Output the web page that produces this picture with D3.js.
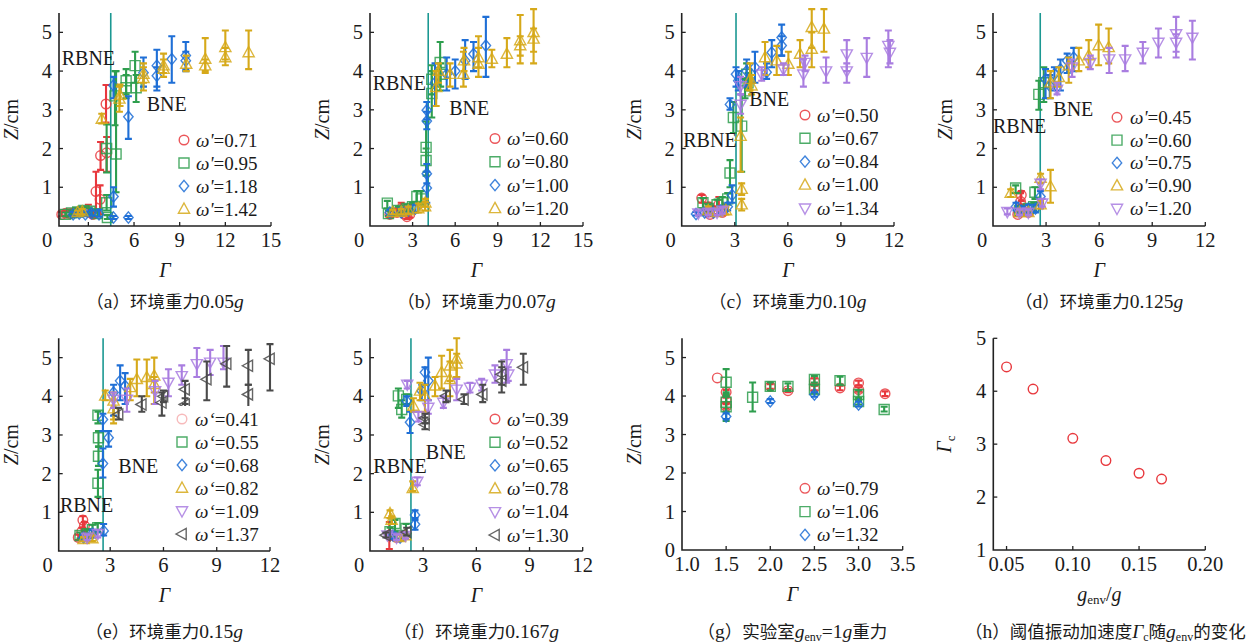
<!DOCTYPE html>
<html><head><meta charset="utf-8">
<script src="https://cdn.jsdelivr.net/npm/d3@7"></script>
<style>
body{margin:0;background:#fff}
svg{display:block}
svg text{font-family:"Liberation Serif","DejaVu Serif",serif;fill:#1a1a1a}
</style></head><body>
<svg id="fig" width="1247" height="643" font-family="Liberation Serif, DejaVu Serif, serif"></svg>
<script>
// ---- data: each point is [Γ, Z, error-bar low, error-bar high] ----
const a071 = [[1.25,0.30,0.25,0.36],[1.5,0.33,0.27,0.4],[1.8,0.32,0.26,0.38],[2.1,0.35,0.28,0.42],[2.4,0.37,0.3,0.45],[2.7,0.38,0.3,0.47],[3.0,0.36,0.28,0.55],[3.3,0.3,0.22,0.4],[3.5,0.89,0.35,1.4],[3.77,0.69,0.3,1.05],[3.8,1.82,1.45,2.17],[4.2,1.89,1.4,2.3],[4.16,3.15,2.67,3.64]];
const a095 = [[1.5,0.3,0.25,0.35],[1.9,0.34,0.28,0.4],[2.3,0.36,0.3,0.44],[2.7,0.4,0.32,0.48],[3.1,0.38,0.3,0.46],[3.6,0.32,0.25,0.42],[4.2,0.6,0.4,0.8],[4.25,0.22,0.18,0.28],[4.2,2.0,1.38,2.62],[4.82,1.86,0.87,4.0],[4.75,3.36,2.6,4.0],[5.48,3.75,3.4,4.05],[5.48,3.57,3.3,3.9],[6.07,4.14,3.7,4.5],[6.14,3.57,3.2,3.9]];
const a118 = [[2.0,0.3,0.25,0.36],[2.4,0.32,0.26,0.38],[2.8,0.3,0.25,0.36],[3.2,0.33,0.27,0.4],[3.7,0.3,0.24,0.42],[4.65,3.63,3.3,3.85],[4.65,0.76,0.5,1.0],[4.65,0.22,0.18,0.26],[5.63,0.22,0.18,0.26],[5.63,2.82,2.25,3.35],[6.62,3.96,3.6,4.35],[7.5,4.14,3.5,4.55],[7.5,3.88,3.6,4.1],[8.48,4.31,3.7,4.9],[9.4,4.4,4.0,4.75],[9.4,4.27,4.05,4.5]];
const a142 = [[2.3,0.35,0.3,0.4],[2.6,0.37,0.3,0.44],[3.88,2.76,2.65,2.9],[5.04,3.28,2.95,3.6],[5.08,3.38,3.1,3.65],[6.62,3.81,3.5,4.2],[6.62,3.92,3.7,4.1],[7.94,4.05,3.85,4.45],[7.94,4.14,3.95,4.3],[9.43,4.18,4.0,4.4],[10.68,4.31,4.0,4.85],[10.68,4.14,3.95,4.3],[12.0,4.61,4.3,5.05],[12.0,4.35,4.15,4.6],[13.53,4.48,4.05,5.05]];

const b060 = [[1.4,0.3,0.22,0.38],[1.9,0.35,0.28,0.45],[2.2,0.45,0.3,0.6],[2.4,0.32,0.25,0.4],[2.6,0.24,0.18,0.5],[2.8,0.3,0.22,0.55]];
const b080 = [[1.22,0.59,0.45,0.65],[1.3,0.32,0.26,0.4],[2.0,0.4,0.32,0.5],[2.6,0.45,0.35,0.55],[3.0,0.5,0.4,0.6],[3.3,0.76,0.6,0.9],[3.6,0.7,0.55,0.9],[3.95,2.03,1.3,2.7],[3.95,1.69,1.4,2.0],[4.35,3.79,3.4,4.15],[4.35,3.42,2.8,4.0],[4.94,4.22,3.5,4.75],[4.98,3.92,3.6,4.2]];
const b100 = [[1.4,0.35,0.28,0.42],[2.2,0.35,0.28,0.45],[2.7,0.4,0.32,0.5],[3.2,0.45,0.35,0.55],[4.0,0.98,0.6,1.4],[4.0,1.35,1.1,1.6],[4.0,2.71,2.5,2.95],[4.0,2.99,2.75,3.2],[4.58,3.7,3.1,4.2],[5.4,3.92,3.5,4.35],[6.0,4.0,3.55,4.3],[6.7,4.27,3.8,4.8],[7.29,4.44,4.0,4.75],[8.16,4.66,3.85,5.4]];
const b120 = [[1.6,0.35,0.3,0.42],[2.2,0.36,0.3,0.44],[2.7,0.4,0.32,0.5],[3.4,0.45,0.35,0.58],[3.88,0.5,0.4,0.62],[3.9,0.6,0.5,0.7],[4.66,3.58,3.1,4.0],[4.82,4.0,3.7,4.2],[5.64,3.92,3.6,4.2],[6.58,3.92,3.6,4.5],[6.62,4.27,4.0,4.6],[7.64,4.18,3.85,4.9],[7.64,4.35,4.1,4.6],[8.58,4.31,4.1,4.55],[9.64,4.44,4.1,4.85],[10.58,4.79,4.2,5.45],[10.58,4.66,4.4,4.9],[11.52,5.0,4.2,5.6],[11.52,4.83,4.5,5.1]];

const c050 = [[1.13,0.72,0.6,0.8],[1.5,0.5,0.4,0.6],[1.8,0.4,0.3,0.5],[2.1,0.55,0.4,0.75],[2.3,0.35,0.28,0.45],[1.6,0.3,0.25,0.36]];
const c067 = [[1.2,0.6,0.45,0.72],[1.5,0.45,0.35,0.55],[2.0,0.55,0.45,0.68],[2.3,0.6,0.5,0.75],[2.6,0.7,0.55,0.85],[2.73,1.37,1.0,1.7],[2.92,2.8,2.4,3.2],[3.39,2.58,1.4,3.4],[3.58,3.49,3.3,3.8],[3.67,3.92,3.6,4.2],[3.75,3.7,3.5,3.95]];
const c084 = [[0.81,0.31,0.27,0.36],[1.3,0.35,0.28,0.42],[1.8,0.35,0.28,0.42],[2.2,0.4,0.32,0.5],[2.6,0.5,0.4,0.6],[2.85,0.8,0.6,1.05],[2.73,3.14,3.0,3.3],[3.07,3.92,3.6,4.1],[3.2,3.75,3.5,4.0],[3.67,4.0,3.6,4.3],[4.14,4.1,3.7,4.5],[4.8,3.97,3.8,4.2],[5.09,4.48,4.1,4.8],[5.65,4.87,4.4,5.2],[5.65,4.66,4.4,4.9]];
const c100 = [[1.5,0.4,0.32,0.5],[2.0,0.35,0.28,0.45],[2.5,0.4,0.3,0.5],[3.39,0.55,0.4,0.7],[3.39,0.95,0.8,1.1],[3.33,2.32,1.4,2.8],[3.86,3.79,3.5,4.2],[3.95,3.62,3.4,3.9],[4.71,4.35,3.9,4.75],[5.37,4.27,3.9,4.65],[6.03,4.18,3.9,4.5],[6.69,4.44,4.1,4.8],[7.35,5.13,4.6,5.6],[7.35,4.57,4.1,5.0],[8.04,5.09,4.5,5.6]];
const c134 = [[0.94,0.33,0.27,0.4],[1.5,0.35,0.28,0.42],[2.0,0.35,0.28,0.42],[2.3,0.4,0.32,0.48],[3.33,3.14,2.9,3.4],[3.33,3.62,3.4,3.85],[4.52,3.92,3.75,4.1],[5.75,4.05,3.9,4.2],[6.88,3.92,3.6,4.3],[6.97,4.22,4.0,4.4],[8.16,4.0,3.7,4.35],[9.33,4.44,4.0,4.8],[9.33,4.0,3.7,4.2],[10.46,4.35,3.85,4.85],[11.68,4.66,4.1,5.05],[11.77,4.48,4.2,4.8]];

const d045 = [[1.4,0.3,0.25,0.36],[1.6,0.45,0.35,0.55],[1.56,0.63,0.4,0.85],[1.6,0.8,0.65,0.9],[2.0,0.35,0.28,0.42]];
const d060 = [[1.28,0.98,0.85,1.05],[1.5,0.4,0.32,0.5],[2.0,0.45,0.35,0.55],[2.3,0.5,0.4,0.6],[2.37,0.87,0.7,1.0],[2.59,3.4,3.0,3.75],[2.87,3.7,3.2,4.1]];
const d075 = [[1.3,0.5,0.4,0.6],[1.6,0.4,0.32,0.5],[2.0,0.45,0.35,0.55],[2.4,0.45,0.35,0.55],[2.68,0.76,0.6,0.9],[2.97,3.79,3.3,4.05],[3.21,3.62,3.3,3.9],[3.47,3.92,3.5,4.1],[3.81,4.05,3.5,4.3],[4.19,4.27,3.95,4.45],[4.56,4.35,4.0,4.6]];
const d090 = [[1.0,0.85,0.75,0.95],[1.5,0.35,0.28,0.42],[2.0,0.35,0.28,0.42],[2.69,1.24,1.1,1.35],[2.69,0.55,0.45,0.65],[3.25,1.02,0.6,1.45],[3.25,3.7,3.3,4.0],[3.72,3.84,3.6,4.1],[4.28,4.14,3.7,4.35],[4.85,4.27,4.0,4.6],[5.41,4.4,4.1,4.8],[5.97,4.66,4.15,5.2],[6.54,4.61,4.2,5.1]];
const d120 = [[0.81,0.37,0.3,0.45],[1.5,0.35,0.28,0.42],[2.0,0.35,0.28,0.42],[2.69,1.1,0.95,1.2],[2.78,0.59,0.5,0.7],[3.62,3.53,3.4,3.7],[4.47,4.1,3.85,4.3],[5.5,4.22,4.05,4.4],[6.57,4.31,3.95,4.6],[7.47,4.31,4.0,4.65],[8.47,4.48,4.2,4.75],[9.35,4.74,4.35,5.1],[10.35,4.96,4.35,5.4],[10.35,4.74,4.5,4.95],[11.27,4.87,4.3,5.3]];

const e041 = [[1.2,0.35,0.28,0.42],[1.4,0.5,0.4,0.6],[1.46,0.8,0.6,0.9],[1.7,0.45,0.35,0.55],[1.55,0.65,0.5,0.75]];
const e055 = [[1.3,0.4,0.32,0.48],[1.7,0.45,0.35,0.55],[2.0,0.55,0.45,0.68],[2.3,0.6,0.5,0.72],[2.31,1.75,1.4,2.1],[2.34,2.45,2.2,2.7],[2.34,2.93,2.7,3.1],[2.31,3.51,3.3,3.6]];
const e068 = [[1.5,0.35,0.28,0.42],[2.0,0.45,0.35,0.55],[2.63,0.52,0.4,0.7],[2.59,2.26,1.9,2.65],[2.91,2.93,2.7,3.1],[2.59,3.4,3.1,3.55],[3.19,4.1,3.5,4.3],[3.56,4.4,3.9,4.8],[3.84,4.27,3.8,4.6]];
const e082 = [[1.5,0.3,0.25,0.36],[2.0,0.32,0.26,0.4],[2.72,4.01,3.9,4.15],[3.19,3.88,3.3,4.1],[3.19,3.68,3.4,3.9],[4.13,4.23,3.9,4.45],[4.5,4.44,4.0,4.95],[5.06,4.49,4.0,4.95],[5.48,4.53,3.8,5.0],[5.48,4.31,4.1,4.5]];
const e109 = [[1.7,0.35,0.28,0.42],[2.3,0.45,0.35,0.55],[3.19,3.92,3.7,4.1],[3.94,3.92,3.6,4.2],[5.53,4.14,3.8,4.4],[6.28,4.36,4.0,4.7],[7.03,4.53,4.3,4.8],[7.88,4.84,4.5,5.25],[8.63,4.88,4.55,5.2],[9.38,4.88,4.7,5.3]];
const e137 = [[3.47,3.53,3.4,3.7],[4.78,3.79,3.6,4.0],[5.91,3.84,3.5,4.1],[6.0,4.0,3.85,4.15],[7.22,4.18,3.8,4.4],[7.22,3.79,3.6,3.95],[8.44,4.44,3.9,4.9],[9.56,4.84,4.25,5.3],[10.78,4.79,4.3,5.2],[10.78,4.05,3.7,4.3],[12.0,4.97,4.15,5.35]];

const f039 = [[1.09,0.41,0.05,0.75],[1.3,0.4,0.32,0.48],[1.5,0.35,0.28,0.42]];
const f052 = [[1.6,4.01,3.7,4.2],[1.79,3.66,3.45,3.9],[2.07,3.92,3.8,4.05],[1.41,0.71,0.5,0.8],[1.13,0.5,0.42,0.6],[2.03,0.58,0.45,0.7],[1.7,0.4,0.32,0.48]];
const f065 = [[1.3,0.4,0.32,0.48],[1.7,0.35,0.28,0.42],[2.54,0.69,0.55,0.85],[2.54,0.93,0.8,1.05],[2.26,3.33,3.05,3.6],[2.07,3.88,3.75,4.0],[3.1,4.62,4.3,4.75],[3.29,4.4,3.9,5.0],[2.92,4.14,3.9,4.3]];
const f078 = [[1.13,0.97,0.85,1.05],[1.22,0.8,0.7,0.9],[1.7,0.35,0.28,0.42],[2.0,0.4,0.32,0.48],[2.41,1.62,1.55,1.8],[2.45,3.75,3.6,3.95],[2.82,4.14,3.9,4.35],[3.1,4.01,3.6,4.3],[3.67,4.27,4.0,4.5],[4.04,4.62,4.2,5.05],[4.51,4.79,4.4,5.2],[4.51,4.44,4.0,4.9],[4.89,4.97,4.5,5.5],[4.89,4.84,4.5,5.1]];
const f104 = [[0.98,0.41,0.35,0.48],[1.5,0.35,0.28,0.42],[2.0,0.4,0.32,0.48],[2.1,4.31,4.2,4.4],[2.67,1.8,1.7,1.9],[2.73,3.49,3.35,3.6],[3.29,3.71,3.55,3.9],[4.14,3.84,3.7,4.0],[4.89,4.18,3.9,4.45],[5.64,4.23,4.1,4.35],[6.3,4.31,4.15,4.45],[7.05,4.57,4.35,4.8],[7.71,4.84,4.35,5.2],[7.8,4.57,4.4,4.75]];
const f130 = [[0.9,0.41,0.35,0.48],[2.07,0.49,0.4,0.6],[3.1,3.27,3.15,3.45],[3.1,3.44,3.3,3.55],[4.29,4.01,3.85,4.15],[5.3,3.92,3.8,4.05],[6.36,4.05,3.85,4.3],[7.43,4.4,4.1,4.9],[7.43,4.57,4.3,4.75],[8.65,4.75,4.3,5.1]];

const g079 = [[1.4,4.47,4.47,4.47],[1.5,4.1,4.04,4.16],[1.5,3.9,3.84,3.96],[1.5,3.73,3.67,3.79],[2.0,4.25,4.19,4.31],[2.2,4.14,4.1,4.18],[2.5,4.38,4.3,4.46],[2.5,4.21,4.15,4.27],[2.79,4.21,4.15,4.27],[3.0,4.34,4.28,4.4],[3.0,4.17,4.11,4.23],[3.3,4.06,4.0,4.12]];
const g106 = [[1.5,4.36,4.0,4.7],[1.5,3.72,3.35,4.1],[1.5,3.84,3.6,4.05],[1.8,3.97,3.6,4.35],[2.0,4.25,4.15,4.35],[2.2,4.25,4.15,4.33],[2.5,4.43,4.35,4.52],[2.5,4.17,4.08,4.28],[2.79,4.4,4.3,4.5],[3.0,4.04,3.9,4.15],[3.0,3.86,3.78,3.95],[3.29,3.65,3.6,3.72]];
const g132 = [[1.5,3.47,3.4,3.55],[2.0,3.86,3.82,3.92],[2.5,4.04,3.98,4.1],[3.0,3.78,3.73,3.85]];

// threshold acceleration Γc versus g_env / g
const gEnvRatio = [0.05, 0.07, 0.10, 0.125, 0.15, 0.167];
const gammaCrit = [4.46, 4.04, 3.11, 2.69, 2.45, 2.34];
// Γ position of the RBNE/BNE boundary line in panels a–f
const boundaryGamma = [4.47, 4.1, 3.07, 2.67, 2.6, 2.31];

// tick labels
const ticks15 = [0, 3, 6, 9, 12, 15];
const ticks12 = [0, 3, 6, 9, 12];
const ticksZ = [1, 2, 3, 4, 5];
const ticksZ0 = [0, 1, 2, 3, 4, 5];
const ticksLab = [1.0, 1.5, 2.0, 2.5, 3.0, 3.5];
const ticksEnv = [0.05, 0.10, 0.15, 0.20];
const ticksGc = [1, 2, 3, 4, 5];

// ω' values in each legend
const omegaA = ["0.71", "0.95", "1.18", "1.42"];
const omegaB = ["0.60", "0.80", "1.00", "1.20"];
const omegaC = ["0.50", "0.67", "0.84", "1.00", "1.34"];
const omegaD = ["0.45", "0.60", "0.75", "0.90", "1.20"];
const omegaE = ["0.41", "0.55", "0.68", "0.82", "1.09", "1.37"];
const omegaF = ["0.39", "0.52", "0.65", "0.78", "1.04", "1.30"];
const omegaG = ["0.79", "1.06", "1.32"];

// ---- styling ----
const SERIF = "'Liberation Serif', 'DejaVu Serif', serif";
const CJK = "'Noto Sans CJK SC', sans-serif";
const C = {red:"#e8383d", green:"#2e9e4e", blue:"#1f6fd6", gold:"#d6a91a", purple:"#a97de0", gray:"#4a4a4a"};
const styles = [
  {c:C.red, s:"circle"}, {c:C.green, s:"square"}, {c:C.blue, s:"diamond"},
  {c:C.gold, s:"up"}, {c:C.purple, s:"down"}, {c:C.gray, s:"left"}
];
const TEAL = "#1b9892";

function symbolPath(s) {
  switch (s) {
    case "circle": return d3.symbol(d3.symbolCircle, Math.PI * 4.8 * 4.8)();
    case "square": return "M-5,-5H5V5H-5Z";
    case "diamond": return "M0,-5.6L4.7,0L0,5.6L-4.7,0Z";
    case "up": return "M0,-6L5.6,4.2L-5.6,4.2Z";
    case "down": return "M0,6L5.6,-4.2L-5.6,-4.2Z";
    case "left": return "M-6,0L4.2,-5.6L4.2,5.6Z";
  }
}

const svg = d3.select("#fig");

function txt(sel) {
  return sel.append("text").attr("font-family", SERIF).attr("fill", "#1a1a1a");
}

function drawPanel(p) {
  const x = d3.scaleLinear().domain(p.xd).range(p.xr);
  const y = d3.scaleLinear().domain(p.yd).range(p.yr);
  const g = svg.append("g");

  // boundary line between the RBNE and BNE regimes
  if (p.line !== undefined) {
    g.append("line").attr("x1", x(p.line)).attr("x2", x(p.line))
      .attr("y1", p.yr[0]).attr("y2", p.yr[1])
      .attr("stroke", TEAL).attr("stroke-width", 1.6);
  }

  // series: error bars then open markers
  (p.series || []).forEach((pts, i) => {
    const st = styles[i];
    const sg = g.append("g");
    pts.forEach(d => {
      const [gx, z, lo, hi] = d;
      if (lo !== hi) {
        const px = x(gx);
        sg.append("path")
          .attr("d", `M${px},${y(lo)}V${y(hi)}M${px-3.5},${y(lo)}H${px+3.5}M${px-3.5},${y(hi)}H${px+3.5}`)
          .attr("stroke", st.c).attr("stroke-width", 2.1).attr("fill", "none");
      }
    });
    sg.selectAll("path.m").data(pts).join("path").attr("class", "m")
      .attr("d", symbolPath(st.s))
      .attr("transform", d => `translate(${x(d[0])},${y(d[1])})`)
      .attr("fill", "none").attr("stroke", st.c).attr("stroke-width", 1.4)
      .attr("stroke-opacity", 0.85);
  });

  // Γc scatter (panel h)
  if (p.scatter) {
    g.selectAll("circle.gc").data(p.scatter[0]).join("circle").attr("class", "gc")
      .attr("cx", d => x(d)).attr("cy", (d, i) => y(p.scatter[1][i]))
      .attr("r", 4.8).attr("fill", "none").attr("stroke", C.red).attr("stroke-width", 1.4);
  }

  // legend
  if (p.legend) {
    const L = p.legend;
    if (L.box) {
      g.append("rect").attr("x", L.box[0]).attr("y", L.box[1]).attr("width", L.box[2]).attr("height", L.box[3])
        .attr("fill", "#fff");
    }
    L.labels.forEach((lab, i) => {
      const ly = L.y0 + i * L.dy;
      const st = styles[i];
      g.append("path").attr("d", symbolPath(st.s)).attr("transform", `translate(${L.mx},${ly})`)
        .attr("fill", "none").attr("stroke", st.c).attr("stroke-width", 1.4)
        .attr("stroke-opacity", (L.faded && i === 0) ? 0.35 : 0.85);
      const t = txt(g).attr("x", L.tx).attr("y", ly + 6.5).attr("font-size", 19);
      t.append("tspan").attr("font-style", "italic").text("ω" + (L.prime || "'"));
      t.append("tspan").text("=" + lab);
    });
  }

  // axes with inward ticks
  g.append("path").attr("d", `M${p.xr[0]},${p.yr[1]}V${p.yr[0]}H${p.xr[1]}`)
    .attr("fill", "none").attr("stroke", "#222").attr("stroke-width", 1.6);
  p.yt.forEach(v => {
    const py = y(v);
    if (v !== p.yd[0]) g.append("line").attr("x1", p.xr[0]).attr("x2", p.xr[0] + 4)
      .attr("y1", py).attr("y2", py).attr("stroke", "#222").attr("stroke-width", 1.3);
    txt(g).attr("x", p.xr[0] - 7).attr("y", py + 7).attr("text-anchor", "end")
      .attr("font-size", 20.5).text(v);
  });
  p.xt.forEach((v, i) => {
    let px = x(v);
    if (v > p.xd[0]) g.append("line").attr("x1", px).attr("x2", px)
      .attr("y1", p.yr[0]).attr("y2", p.yr[0] - 4).attr("stroke", "#222").attr("stroke-width", 1.3);
    if (i === 0 && p.firstShift !== undefined) px = p.xr[0] + p.firstShift;
    txt(g).attr("x", px).attr("y", p.yr[0] + 21).attr("text-anchor", "middle")
      .attr("font-size", 20.5).text(p.xfmt ? p.xfmt(v) : v);
  });

  // regime annotations
  (p.notes || []).forEach(n => {
    txt(g).attr("x", x(n[1])).attr("y", y(n[2])).attr("font-size", 20).text(n[0]);
  });

  // axis titles
  const cx = (p.xr[0] + p.xr[1]) / 2;
  const cy = (p.yr[0] + p.yr[1]) / 2;
  const yOff = p.yTitle === "Gc" ? 42 : 41;
  const yt = txt(g).attr("transform", `translate(${p.xr[0] - yOff},${cy}) rotate(-90)`)
    .attr("text-anchor", "middle").attr("font-size", 20);
  if (p.yTitle === "Gc") {
    yt.append("tspan").attr("font-style", "italic").text("Γ");
    yt.append("tspan").attr("font-size", 13).attr("dy", 4).text("c");
  } else {
    yt.append("tspan").attr("font-style", "italic").text("Z");
    yt.append("tspan").text("/cm");
  }
  const xt = txt(g).attr("x", cx).attr("y", p.yr[0] + 51).attr("text-anchor", "middle").attr("font-size", 20);
  if (p.xTitle === "genv") {
    xt.append("tspan").attr("font-style", "italic").text("g");
    xt.append("tspan").attr("font-size", 13).attr("dy", 3).text("env");
    xt.append("tspan").attr("dy", -3).text("/");
    xt.append("tspan").attr("font-style", "italic").text("g");
  } else {
    xt.append("tspan").attr("font-style", "italic").text("Γ");
  }

  // caption
  const cap = txt(g).attr("x", cx + (p.capShift || 0)).attr("y", p.capY)
    .attr("text-anchor", "middle").attr("font-size", 18);
  p.caption.forEach(part => {
    const ts = cap.append("tspan").text(part.t);
    if (part.cjk) ts.attr("font-family", CJK).attr("font-size", 17.5);
    if (part.i) ts.attr("font-style", "italic");
    if (part.sub) ts.attr("font-size", 12).attr("dy", 3);
    if (part.up) ts.attr("dy", -3);
    if (part.big) ts.attr("font-size", 19.5);
  });
}

const topY = [226, 13], botY = [551, 338.3];
const envCaption = (letter, val) => [
  {t:"（", cjk:true}, {t:letter, big:true}, {t:"）环境重力", cjk:true}, {t:val, big:true}, {t:"g", i:true, big:true}
];

const panels = [
  {xr:[59,271], yr:topY, xd:[1.07,15], yd:[0,5.5], xt:ticks15, yt:ticksZ, firstShift:-12,
   series:[a071,a095,a118,a142], line:boundaryGamma[0],
   legend:{labels:omegaA, mx:184, tx:196, y0:140, dy:23},
   notes:[["RBNE",1.25,4.15],["BNE",6.83,2.98]], capY:308, caption:envCaption("a","0.05")},
  {xr:[370,583], yr:topY, xd:[0,15], yd:[0,5.5], xt:ticks15, yt:ticksZ, firstShift:-11,
   series:[b060,b080,b100,b120], line:boundaryGamma[1],
   legend:{labels:omegaB, mx:495, tx:507, y0:138.5, dy:23.3},
   notes:[["RBNE",0.19,3.52],["BNE",5.58,2.86]], capY:308, caption:envCaption("b","0.07")},
  {xr:[681.7,894], yr:topY, xd:[0,12], yd:[0,5.5], xt:ticks12, yt:ticksZ, firstShift:-11,
   series:[c050,c067,c084,c100,c134], line:boundaryGamma[2],
   legend:{labels:omegaC, mx:805, tx:817, y0:115, dy:23.3},
   notes:[["RBNE",0.09,2.04],["BNE",3.82,3.09]], capY:308, caption:envCaption("c","0.10")},
  {xr:[993,1205.3], yr:topY, xd:[0,12], yd:[0,5.5], xt:ticks12, yt:ticksZ, firstShift:-11,
   series:[d045,d060,d075,d090,d120], line:boundaryGamma[3],
   legend:{labels:omegaD, mx:1117, tx:1130, y0:117.3, dy:22.8},
   notes:[["RBNE",0.0,2.4],["BNE",3.41,2.83]], capY:308, caption:envCaption("d","0.125")},
  {xr:[58.7,270], yr:botY, xd:[0.1,12], yd:[0,5.5], xt:ticks12, yt:ticksZ, firstShift:-11,
   series:[e041,e055,e068,e082,e109,e137], line:boundaryGamma[4],
   legend:{labels:omegaE, mx:182, tx:195, y0:419, dy:23, prime:"‘", faded:true, box:[170,406,99,143]},
   notes:[["RBNE",0.17,1.02],["BNE",3.45,2.01]], capY:638, caption:envCaption("e","0.15")},
  {xr:[370,582.7], yr:botY, xd:[0,12], yd:[0,5.5], xt:ticks12, yt:ticksZ, firstShift:-11,
   series:[f039,f052,f065,f078,f104,f130], line:boundaryGamma[5],
   legend:{labels:omegaF, mx:495, tx:507, y0:419, dy:23.2},
   notes:[["RBNE",0.19,2.01],["BNE",3.15,2.38]], capY:638, caption:envCaption("f","0.167")},
  {xr:[682,902.7], yr:[550,338.3], xd:[1,3.5], yd:[0,5.5], xt:ticksLab, yt:ticksZ0, firstShift:5,
   xfmt:d3.format(".1f"),
   series:[g079,g106,g132],
   legend:{labels:omegaG, mx:805, tx:817, y0:488.3, dy:23.3},
   capY:638, caption:[{t:"（", cjk:true}, {t:"g", big:true}, {t:"）实验室", cjk:true}, {t:"g", i:true, big:true},
     {t:"env", sub:true}, {t:"=1", up:true, big:true}, {t:"g", i:true, big:true}, {t:"重力", cjk:true}]},
  {xr:[993.3,1205.3], yr:[550,338.3], xd:[0.04,0.20], yd:[1,5], xt:ticksEnv, yt:ticksGc,
   xfmt:d3.format(".2f"), scatter:[gEnvRatio, gammaCrit], yTitle:"Gc", xTitle:"genv",
   capY:638, capShift:6,
   caption:[{t:"（", cjk:true}, {t:"h", big:true}, {t:"）阈值振动加速度", cjk:true}, {t:"Γ", i:true, big:true},
     {t:"c", sub:true}, {t:"随", cjk:true, up:true}, {t:"g", i:true, big:true}, {t:"env", sub:true},
     {t:"的变化", cjk:true, up:true}]}
];

panels.forEach(drawPanel);
</script>
</body></html>
